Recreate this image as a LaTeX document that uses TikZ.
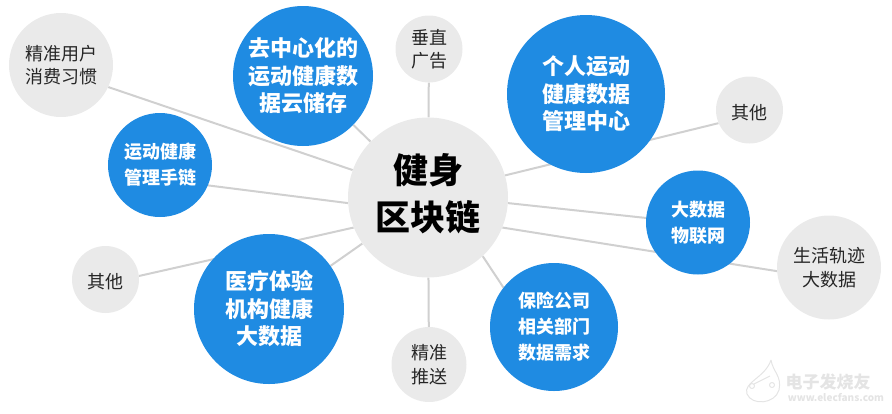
\documentclass[tikz,border=0pt]{standalone}
\usepackage{fontspec}
\usetikzlibrary{backgrounds}
\setmainfont{Noto Sans CJK SC}
\definecolor{hubgray}{HTML}{EAEAEA}
\definecolor{topicblue}{HTML}{1F8BE2}
\definecolor{linkgray}{HTML}{D0D0D0}
\definecolor{markgray}{HTML}{E4E4E4}
\tikzset{
	bubble/.style={circle,inner sep=0pt,align=center},
	bluebig/.style={bubble,fill=topicblue,text=white,font=\fontsize{22}{27.5}\selectfont\bfseries},
	bluesmall/.style={bubble,fill=topicblue,text=white,font=\fontsize{18}{26}\selectfont\bfseries},
	graysmall/.style={bubble,fill=hubgray,text=black!85,font=\fontsize{18}{23.5}\selectfont,execute at begin node=\rule{0pt}{20pt}},
	link/.style={draw=linkgray,line width=2pt},
}
\begin{document}
\begin{tikzpicture}[x=1pt,y=-1pt]
	\useasboundingbox (0,0) rectangle (892,413);
	\node[bubble,fill=hubgray,minimum size=160pt] (hub) at (428,197.5) {};
	\node[inner sep=0pt,align=center,text=black,font=\fontsize{35}{47.5}\selectfont\bfseries] (hubtext) at (428,193.5) {健身\\区块链};
	\node[graysmall,minimum size=104pt] (habit) at (61,65) {精准用户\\消费习惯};
	\node[bluebig,minimum size=140pt] (cloud) at (303,76) {去中心化的\\运动健康数\\据云储存};
	\node[graysmall,minimum size=67pt] (adv) at (429,49) {垂直\\广告};
	\node[bluebig,minimum size=158pt] (center) at (586,94) {个人运动\\健康数据\\管理中心};
	\node[graysmall,minimum size=67pt] (otherright) at (749.5,110) {其他};
	\node[bluesmall,minimum size=104pt] (chain) at (160,165) {运动健康\\管理手链};
	\node[bluesmall,minimum size=104pt] (iot) at (698,222.5) {大数据\\物联网};
	\node[graysmall,minimum size=104pt] (track) at (829,267.5) {生活轨迹\\大数据};
	\node[graysmall,minimum size=67pt] (otherleft) at (105.5,279.5) {其他};
	\node[bluebig,minimum size=150pt] (medical) at (269,309) {医疗体验\\机构健康\\大数据};
	\node[graysmall,minimum size=75pt] (push) at (429,364.5) {精准\\推送};
	\node[bluesmall,minimum size=128pt] (insure) at (554,327) {保险公司\\相关部门\\数据需求};
	\begin{pgfonlayer}{background}
		\draw[link] (hub.160) -- (habit.-25);
		\draw[link] (hub) -- (cloud);
		\draw[link] (hub) -- (adv);
		\draw[link] (hub.16) -- (otherright.203);
		\draw[link] (hub.184) -- (chain.-23);
		\draw[link] (hub.-4) -- (iot.175);
		\draw[link] (hub.-22) -- (track.184);
		\draw[link] (hub.202) -- (otherleft.6);
		\draw[link] (hub) -- (medical);
		\draw[link] (hub) -- (push);
		\draw[link] (hub.-47) -- (insure.142);
	\end{pgfonlayer}
	% watermark
	\node[text=markgray,font=\fontsize{17}{17}\selectfont\bfseries,inner sep=0pt] (markname) at (828,382) {电子发烧友};
	\node[text=markgray,font=\fontsize{10}{10}\selectfont\bfseries,inner sep=0pt] (markurl) at (836,397) {www.elecfans.com};
	\draw[markgray,line width=1pt] (771,360) .. controls (773,372) and (782,376) .. (779,390) .. controls (775,404) and (752,406) .. (747,394) .. controls (743,382) and (765,378) .. (771,360);
	\draw[markgray,line width=1pt] (752,386) circle [radius=2.5] (772,385) circle [radius=2.5] (754,384) -- (770,376);
\end{tikzpicture}
\end{document}
